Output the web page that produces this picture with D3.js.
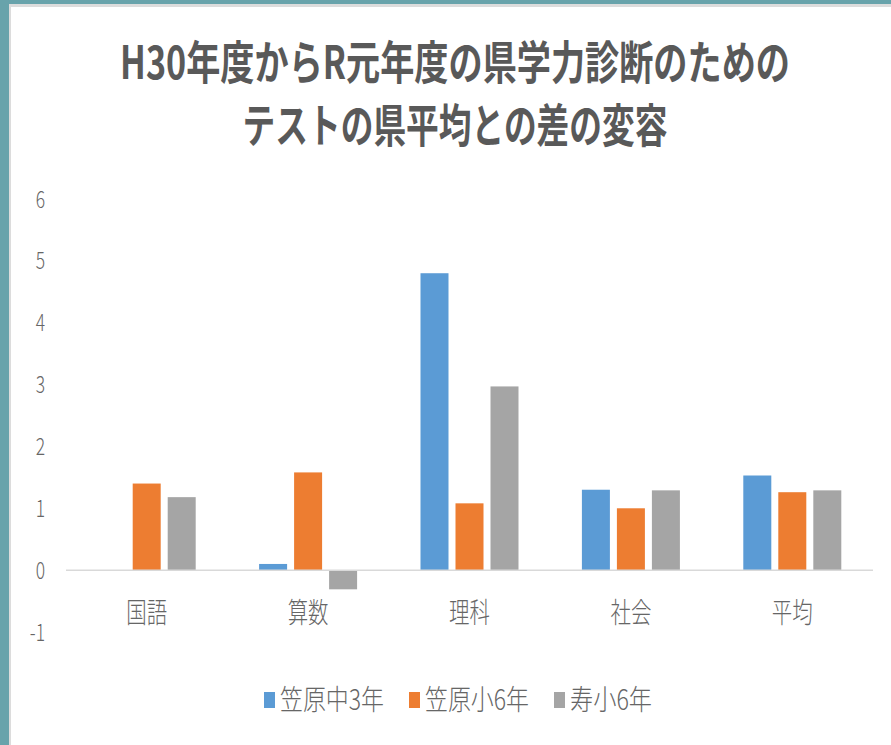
<!DOCTYPE html>
<html>
<head>
<meta charset="utf-8">
<script src="https://cdnjs.cloudflare.com/ajax/libs/d3/7.8.5/d3.min.js"></script>
<style>
  body { margin: 0; padding: 0; overflow: hidden; }
  text { font-family: "Noto Sans CJK JP", "Noto Sans", sans-serif; }
</style>
</head>
<body>
<div id="chart"></div>
<script>
var width = 891,
    height = 745;

// data
var categories = ["国語", "算数", "理科", "社会", "平均"];
var seriesNames = ["笠原中3年", "笠原小6年", "寿小6年"];
var kasaharaChu3 = [null, 0.1, 4.8, 1.3, 1.53];
var kasaharaSho6 = [1.4, 1.58, 1.08, 1.0, 1.26];
var kotobukiSho6 = [1.18, -0.31, 2.97, 1.29, 1.29];
var yTicks = [-1, 0, 1, 2, 3, 4, 5, 6];
var titleLines = ["H30年度からR元年度の県学力診断のための", "テストの県平均との差の変容"];

var seriesValues = [kasaharaChu3, kasaharaSho6, kotobukiSho6];
var colors = ["#5b9bd5", "#ed7d31", "#a5a5a5"];
var textColor = "#595959";
var labelColor = "#666666";

var svg = d3.select("#chart").append("svg")
    .attr("width", width)
    .attr("height", height);

// slide frame
svg.append("rect").attr("width", width).attr("height", height).attr("fill", "#68a3ab");
svg.append("rect").attr("x", 9).attr("y", 4).attr("width", width).attr("height", height).attr("fill", "#dcdcdc");
svg.append("rect").attr("x", 11).attr("y", 7).attr("width", width).attr("height", height).attr("fill", "#ffffff");

// squeeze a text horizontally to the given width (the source picture is narrowed)
function squeeze(node, x, y, w, anchor) {
    var natural = node.getComputedTextLength();
    var sx = w / natural;
    d3.select(node)
        .attr("text-anchor", anchor)
        .attr("transform", "translate(" + x + "," + y + ") scale(" + sx + ",1)");
}

// title
var titleWidths = [670, 425];
svg.selectAll(".title")
    .data(titleLines)
    .enter().append("text")
    .attr("class", "title")
    .style("font-size", "46px")
    .style("font-weight", "bold")
    .style("fill", textColor)
    .text(function(d) { return d; })
    .each(function(d, i) { squeeze(this, 455, 79 + i * 63, titleWidths[i], "middle"); });

var y = d3.scaleLinear()
    .domain([-1, 6])
    .range([632, 199]);

var x0 = d3.scaleBand()
    .domain(categories)
    .range([66, 873]);

var groupWidth = 98;
var x1 = d3.scaleBand()
    .domain(seriesNames)
    .range([0, groupWidth])
    .paddingInner(0.2);
var groupOffset = (x0.bandwidth() - groupWidth) / 2;

// y tick labels (no axis line, no gridlines)
svg.selectAll(".ytick")
    .data(yTicks)
    .enter().append("text")
    .attr("class", "ytick")
    .attr("text-anchor", "end")
    .attr("transform", function(d) { return "translate(45," + (y(d) + 8.5) + ") scale(0.76,1)"; })
    .style("font-size", "23px")
    .style("font-weight", 300)
    .style("fill", labelColor)
    .text(function(d) { return d; });

// bars
var bars = [];
seriesValues.forEach(function(vals, si) {
    vals.forEach(function(v, ci) {
        if (v !== null) bars.push({ series: seriesNames[si], cat: categories[ci], value: v, color: colors[si] });
    });
});

svg.selectAll(".bar")
    .data(bars)
    .enter().append("rect")
    .attr("class", "bar")
    .attr("x", function(d) { return x0(d.cat) + groupOffset + x1(d.series); })
    .attr("y", function(d) { return y(Math.max(0, d.value)); })
    .attr("width", x1.bandwidth())
    .attr("height", function(d) { return Math.abs(y(d.value) - y(0)); })
    .attr("fill", function(d) { return d.color; });

// zero line
svg.append("line")
    .attr("x1", x0.range()[0])
    .attr("x2", x0.range()[1])
    .attr("y1", y(0))
    .attr("y2", y(0))
    .attr("stroke", "#d9d9d9")
    .attr("stroke-width", 1.5);

// category labels
svg.selectAll(".xlabel")
    .data(categories)
    .enter().append("text")
    .attr("class", "xlabel")
    .attr("text-anchor", "middle")
    .attr("transform", function(d) { return "translate(" + (x0(d) + x0.bandwidth() / 2) + ",623) scale(0.73,1)"; })
    .style("font-size", "28px")
    .style("font-weight", 300)
    .style("fill", labelColor)
    .text(function(d) { return d; });

// legend
var legendTextWidths = [104, 104, 82];
var legendGap = 25;
var legendX = 264;
var legendItems = seriesNames.map(function(name, i) {
    var item = { name: name, color: colors[i], x: legendX, w: legendTextWidths[i] };
    legendX += 16 + legendTextWidths[i] + legendGap;
    return item;
});

var legend = svg.selectAll(".legend")
    .data(legendItems)
    .enter().append("g")
    .attr("class", "legend")
    .attr("transform", function(d) { return "translate(" + d.x + ",0)"; });

legend.append("rect")
    .attr("x", 0)
    .attr("y", 692)
    .attr("width", 11)
    .attr("height", 16)
    .attr("fill", function(d) { return d.color; });

legend.append("text")
    .style("font-size", "28px")
    .style("font-weight", 300)
    .style("fill", labelColor)
    .text(function(d) { return d.name; })
    .each(function(d) { squeeze(this, 16, 710, d.w, "start"); });
</script>
</body>
</html>
